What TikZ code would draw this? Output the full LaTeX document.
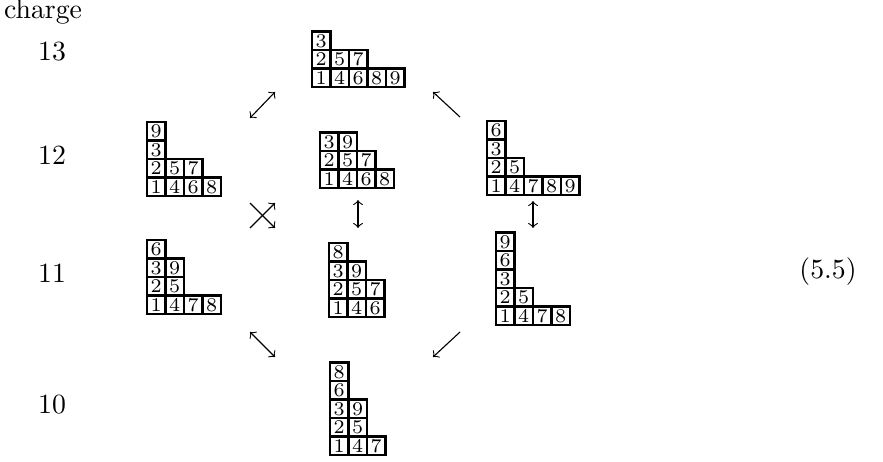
\documentclass[tikz,border=0pt]{standalone}
\usepackage{amsmath,amssymb}

\tikzset{
  ybox/.style={draw, line width=0.8pt, minimum size=6.66pt, inner sep=0pt, font=\scriptsize},
  move/.style={line width=0.4pt},
  chg/.style={font=\normalsize},
}
% Young tableau: name, lower left corner (x,y), rows from the bottom up
\newcommand{\ytab}[4]{%
  \foreach \rw [count=\ri] in {#4}{
    \foreach \ent [count=\ci] in \rw
      \node[ybox] (#1-\ri-\ci) at ({#2+(\ci-0.5)*18.5},{#3-(\ri-0.5)*18.5}) {\ent};
  }%
}

\begin{document}
\begin{tikzpicture}[x=0.36pt, y=-0.36pt]
  \useasboundingbox (0,0) rectangle (883,461);

  % charge column
  \node[chg] (charge) at (43,12)  {charge};
  \node[chg] (c13)    at (52,52)  {13};
  \node[chg] (c12)    at (52,155) {12};
  \node[chg] (c11)    at (52,273) {11};
  \node[chg] (c10)    at (52,405) {10};
  \node[chg] (eqno)   at (828,272) {(5.5)};

  % tableaux
  \ytab{ta}{312}{87}{{1,4,6,8,9},{2,5,7},{3}}
  \ytab{tb}{147}{196}{{1,4,6,8},{2,5,7},{3},{9}}
  \ytab{tc}{320}{188}{{1,4,6,8},{2,5,7},{3,9}}
  \ytab{td}{487}{195}{{1,4,7,8,9},{2,5},{3},{6}}
  \ytab{te}{147}{314}{{1,4,7,8},{2,5},{3,9},{6}}
  \ytab{tf}{329}{317}{{1,4,6},{2,5,7},{3,9},{8}}
  \ytab{tg}{496}{325}{{1,4,7,8},{2,5},{3},{6},{9}}
  \ytab{th}{330}{455}{{1,4,7},{2,5},{3,9},{6},{8}}

  % arrow ends
  \coordinate (p1) at (250,118); \coordinate (q1) at (275,92);
  \coordinate (p2) at (460,117); \coordinate (q2) at (433,92);
  \coordinate (p3) at (250,228); \coordinate (q3) at (275,203);
  \coordinate (p4) at (250,203); \coordinate (q4) at (275,228);
  \coordinate (p5) at (358,200); \coordinate (q5) at (358,228);
  \coordinate (p6) at (533,201); \coordinate (q6) at (533,228);
  \coordinate (p7) at (250,332); \coordinate (q7) at (275,357);
  \coordinate (p8) at (460,332); \coordinate (q8) at (433,357);

  \draw[move, <->] (p1) -- (q1);
  \draw[move, ->]  (p2) -- (q2);
  \draw[move, ->]  (p3) -- (q3);
  \draw[move, ->]  (p4) -- (q4);
  \draw[move, <->] (p5) -- (q5);
  \draw[move, <->] (p6) -- (q6);
  \draw[move, <->] (p7) -- (q7);
  \draw[move, ->]  (p8) -- (q8);
\end{tikzpicture}
\end{document}
